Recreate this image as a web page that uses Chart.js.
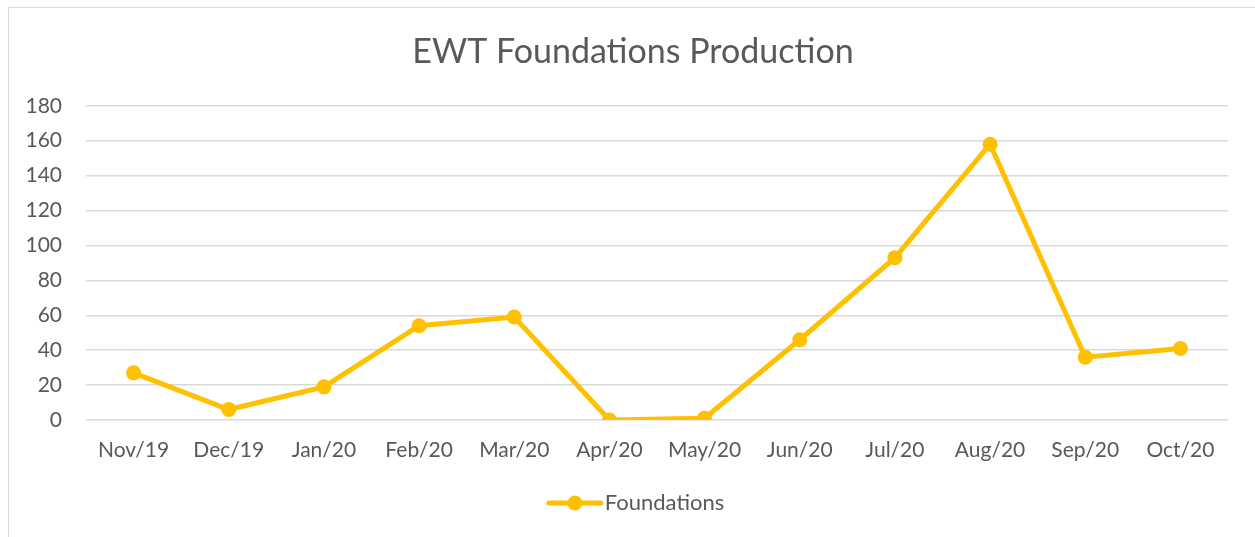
<!DOCTYPE html>
<html>
<head>
    <title>EWT Foundations Production</title>
    <script src="https://cdn.jsdelivr.net/npm/chart.js"></script>
    <style>
        body { margin: 0; background: #fff; }
        #wrap { position: relative; width: 1255px; height: 537px; overflow: hidden; }
        #frame { position: absolute; left: 8px; top: 7px; width: 1260px; height: 540px; border: 1px solid #d9d9d9; pointer-events: none; }
    </style>
</head>
<body>
    <div id="wrap">
        <canvas id="prodChart" width="1255" height="537"></canvas>
        <div id="frame"></div>
    </div>
    <script>
        // values
        const months = ['Nov/19', 'Dec/19', 'Jan/20', 'Feb/20', 'Mar/20', 'Apr/20', 'May/20', 'Jun/20', 'Jul/20', 'Aug/20', 'Sep/20', 'Oct/20'];
        const foundations = [27, 6, 19, 54, 59, 0, 1, 46, 93, 158, 36, 41];
        const yTicks = [0, 20, 40, 60, 80, 100, 120, 140, 160, 180];

        const gold = '#FFC000';
        const textGrey = '#595959';
        const fontFamily = 'Lato, "Open Sans", sans-serif';

        // legend icon: short line with a dot in the middle
        const icon = document.createElement('canvas');
        icon.width = 58; icon.height = 18;
        const ic = icon.getContext('2d');
        ic.strokeStyle = gold; ic.lineWidth = 5; ic.lineCap = 'round';
        ic.beginPath(); ic.moveTo(3, 9); ic.lineTo(55, 9); ic.stroke();
        ic.fillStyle = gold;
        ic.beginPath(); ic.arc(29, 9, 7.5, 0, Math.PI * 2); ic.fill();

        // the original centres title and legend a bit right of the canvas middle
        const nudgeBoxes = {
            id: 'nudgeBoxes',
            afterLayout(chart) {
                chart.titleBlock.left += 19;
                chart.titleBlock.right += 19;
                chart.legend.left += 26;
                chart.legend.right += 26;
            },
        };

        const prodChart = new Chart(document.getElementById('prodChart').getContext('2d'), {
            type: 'line',
            data: {
                labels: months,
                datasets: [{
                    label: 'Foundations',
                    data: foundations,
                    borderColor: gold,
                    backgroundColor: gold,
                    borderWidth: 5,
                    pointRadius: 7.5,
                    pointHoverRadius: 7.5,
                    pointBorderWidth: 0,
                    tension: 0,
                }],
            },
            options: {
                responsive: false,
                animation: false,
                layout: { padding: { left: 0, right: 27, top: 0, bottom: 13 } },
                plugins: {
                    title: {
                        display: true,
                        text: 'EWT Foundations Production',
                        color: textGrey,
                        font: { family: fontFamily, size: 34, weight: 'normal' },
                        padding: { top: 32, bottom: 33 },
                    },
                    legend: {
                        position: 'bottom',
                        labels: {
                            color: textGrey,
                            font: { family: fontFamily, size: 22 },
                            usePointStyle: true,
                            pointStyleWidth: 38,
                            generateLabels: chart => [{
                                text: 'Foundations',
                                pointStyle: icon,
                                fontColor: textGrey,
                                datasetIndex: 0,
                            }],
                        },
                    },
                    tooltip: { enabled: false },
                },
                scales: {
                    x: {
                        offset: true,
                        grid: { display: false },
                        border: { display: false },
                        ticks: { color: textGrey, font: { family: fontFamily, size: 21 }, padding: 10, maxRotation: 0 },
                        afterFit: s => { s.height = 62; },
                    },
                    y: {
                        min: 0,
                        max: 180,
                        afterBuildTicks: s => { s.ticks = yTicks.map(v => ({ value: v })); },
                        grid: { color: '#d9d9d9', lineWidth: 1.5, drawTicks: false },
                        border: { display: false },
                        ticks: { color: textGrey, font: { family: fontFamily, size: 21 }, padding: 24 },
                        afterFit: s => { s.width = 86; },
                    },
                },
            },
            plugins: [nudgeBoxes],
        });
    </script>
</body>
</html>
